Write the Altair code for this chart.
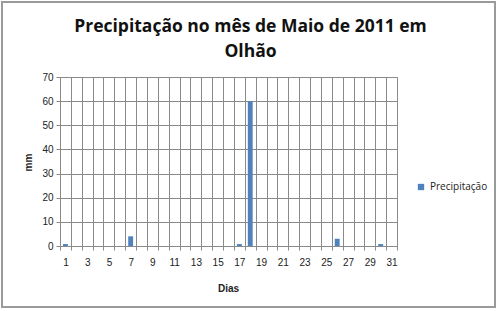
import altair as alt
import pandas as pd

days = list(range(1, 32))
precip = [0.8, 0, 0, 0, 0, 0, 4.0, 0, 0, 0,
          0, 0, 0, 0, 0, 0, 0.8, 60.0, 0, 0,
          0, 0, 0, 0, 0, 3.0, 0, 0, 0, 0.8, 0]
series = ["Precipitação"] * 31

df = pd.DataFrame({"Dia": days, "mm": precip, "Série": series})

W, H = 337, 169
FONT = "Open Sans"

bars = alt.Chart(df).mark_bar(width=alt.RelativeBandSize(0.45)).encode(
    x=alt.X("Dia:O", title="Dias",
            scale=alt.Scale(paddingInner=0, paddingOuter=0),
            axis=alt.Axis(labelAngle=0, tickBand="extent",
                          labelExpr="datum.value % 2 == 1 ? datum.label : ''",
                          grid=True, gridColor="#8a8a8a", gridWidth=1,
                          domainColor="#8a8a8a", tickColor="#8a8a8a", tickSize=4,
                          labelPadding=7, labelFontSize=10, labelColor="#222",
                          titleFontSize=10, titleFontWeight="bold", titleColor="#222",
                          titleX=168, titleY=42, titleBaseline="middle")),
    y=alt.Y("mm:Q", title="mm",
            scale=alt.Scale(domain=[0, 70], nice=False),
            axis=alt.Axis(values=list(range(0, 71, 10)), grid=True,
                          gridColor="#8a8a8a", domainColor="#8a8a8a",
                          tickColor="#8a8a8a", tickSize=4, labelPadding=3,
                          labelFontSize=10, labelColor="#222",
                          titleFontSize=10, titleFontWeight="bold", titleColor="#222",
                          titleAngle=-90, titleX=-32, titleY=85,
                          titleAlign="center", titleBaseline="middle")),
    color=alt.Color("Série:N", scale=alt.Scale(range=["#4F81BD"]),
                    legend=alt.Legend(title=None, orient="none",
                                      legendX=356, legendY=105,
                                      symbolType="square", symbolSize=40,
                                      symbolStrokeWidth=0,
                                      labelFontSize=10, labelColor="#222",
                                      labelFont=FONT)),
)

border = alt.Chart(df).mark_rect(fill=None, stroke="#9a9a9a", strokeWidth=1.5).encode(
    x=alt.value(-58), x2=alt.value(W + 98),
    y=alt.value(-75), y2=alt.value(H + 61),
)

chart = alt.layer(bars, border).properties(
    width=W, height=H,
    padding={"left": 60, "top": 77, "right": 103, "bottom": 65},
    autosize=alt.AutoSizeParams(type="none"),
    title=alt.TitleParams(
        text=["Precipitação no mês de Maio de 2011 em", "Olhão"],
        fontSize=17.5, font=FONT, fontWeight="bold", color="#111",
        anchor="middle", dx=22, dy=67, lineHeight=25, offset=8),
).configure_view(stroke="#8a8a8a").configure_axis(
    labelFont=FONT, titleFont=FONT
).configure(background="white")

chart.save("out.html", embed_options={"renderer": "svg", "actions": False})
